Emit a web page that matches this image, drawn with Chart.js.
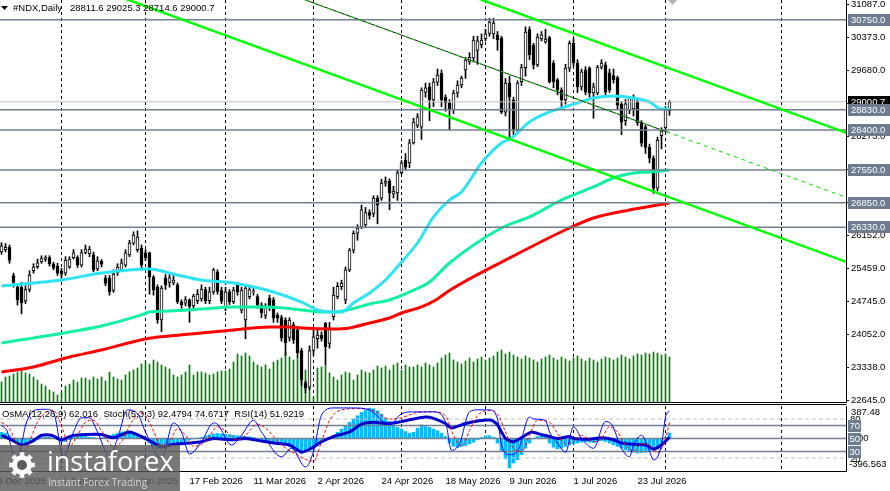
<!DOCTYPE html>
<html>
<head>
<meta charset="utf-8">
<title>#NDX Daily</title>
<script src="https://cdn.jsdelivr.net/npm/chart.js@4.4.1/dist/chart.umd.min.js"></script>
<style>
  html, body { margin: 0; padding: 0; background: #fff; }
  body { width: 890px; height: 491px; position: relative; overflow: hidden; }
  canvas { position: absolute; left: 0; }
  #mainChart { top: 0; }
  #oscChart { top: 403px; }
</style>
</head>
<body>
<canvas id="mainChart" width="890" height="404"></canvas>
<canvas id="oscChart" width="890" height="88"></canvas>
<script>
// ---- price bars (one per trading day from 9 Dec 2025) ----
const opens = [
  25750, 25800, 25850, 25900, 25300, 25060, 25050, 24750, 25000, 25400,
  25490, 25590, 25640, 25680, 25550, 25500, 25400, 25350, 25480, 25680,
  25680, 25520, 25790, 25760, 25740, 25440, 25600, 25250, 25250, 24980,
  25350, 25420, 25520, 25740, 25990, 25850, 25880, 25780, 25780, 25260,
  25050, 24350, 25250, 25150, 25140, 25100, 24740, 24710, 24780, 24650,
  24760, 24800, 25000, 24760, 24950, 25380, 24980, 24620, 24950, 24740,
  25100, 24560, 24350, 24850, 24950, 24850, 24670, 24450, 24820, 24780,
  24450, 24400, 24350, 23980, 24250, 24140, 23700, 23010, 22920, 23700,
  23950, 24030, 24280, 23850, 24420, 24850, 25060, 24780, 25420, 25840,
  26200, 26330, 26380, 26640, 26620, 26950, 26950, 27270, 27310, 27040,
  27060, 27490, 27760, 27700, 28125, 28500, 28460, 29200, 29320, 29040,
  29420, 29610, 29100, 28980, 28830, 29190, 29360, 29680, 29850, 29940,
  30100, 30220, 30350, 30460, 30450, 30430, 30360, 28780, 29400, 29040,
  28400, 29430, 29730, 30540, 30210, 29790, 30340, 30280, 30370, 29830,
  29470, 29250, 29040, 29720, 30250, 29830, 29320, 29680, 29720, 29190,
  29190, 29740, 29790, 29620, 29560, 29520, 28950, 28600, 28830, 28850,
  29000, 28550, 28470, 28030, 27800, 27160, 28280, 28450, 28811.6
];
const highs = [
  25900, 26000, 25980, 25950, 25350, 25100, 25150, 25080, 25400, 25550,
  25650, 25720, 25720, 25720, 25580, 25560, 25450, 25700, 25700, 25850,
  25720, 25850, 25950, 25920, 25800, 25700, 25640, 25300, 25300, 25420,
  25550, 25650, 25850, 26050, 26230, 26250, 25950, 25850, 25800, 25300,
  25100, 25080, 25320, 25350, 25300, 25140, 24780, 24850, 24800, 24900,
  25000, 25100, 25050, 25050, 25450, 25420, 25050, 25050, 25000, 25050,
  25150, 25050, 25080, 25050, 25030, 24900, 24720, 24700, 24880, 24830,
  24500, 24450, 24400, 24400, 24300, 24200, 23750, 23050, 23800, 24150,
  24150, 24100, 24300, 24300, 25050, 25150, 25200, 25480, 25880, 26250,
  26380, 26800, 26750, 26700, 27000, 27000, 27350, 27400, 27360, 27200,
  27550, 27750, 27900, 28200, 28650, 28750, 29300, 29400, 29400, 29500,
  29700, 29680, 29150, 29050, 29250, 29450, 29550, 29950, 30050, 30400,
  30400, 30450, 30550, 30780, 30780, 30500, 30400, 29500, 29550, 29100,
  29450, 29800, 30600, 30600, 30250, 30450, 30500, 30550, 30400, 29880,
  29500, 29300, 29800, 30300, 30350, 29900, 29700, 29750, 29750, 29400,
  29780, 29900, 29850, 29700, 29700, 29550, 29000, 29050, 29100, 29150,
  29050, 28600, 28500, 28100, 27850, 28250, 28450, 28900, 29025.3
];
const lows = [
  25700, 25750, 25800, 25560, 25050, 24670, 24480, 24700, 24950, 25350,
  25450, 25560, 25600, 25500, 25420, 25300, 25250, 25300, 25450, 25650,
  25470, 25480, 25760, 25700, 25380, 25400, 25480, 25080, 24880, 24940,
  25300, 25380, 25480, 25700, 25950, 25800, 25450, 25620, 24900, 24880,
  24280, 24100, 25000, 25050, 25100, 24700, 24600, 24650, 24300, 24600,
  24700, 24750, 24700, 24700, 24900, 24900, 24700, 24550, 24680, 24700,
  24880, 24500, 23950, 24800, 24880, 24600, 24400, 24380, 24550, 24300,
  24300, 23900, 23600, 23900, 23850, 23550, 22950, 22800, 22870, 23600,
  23750, 23900, 23400, 23750, 24350, 24800, 25000, 24700, 25380, 25780,
  26050, 26300, 26330, 26500, 26550, 26400, 26900, 27200, 26700, 26950,
  26900, 27450, 27550, 27600, 28100, 28450, 28200, 29100, 28600, 28900,
  29350, 28900, 28800, 28400, 28750, 29100, 29300, 29500, 29800, 29850,
  29800, 30150, 30300, 30400, 30350, 30100, 28750, 28700, 28200, 28300,
  28350, 29350, 29550, 29900, 29700, 29750, 30300, 30250, 29400, 29300,
  29150, 28900, 28950, 29650, 29750, 29200, 29250, 29150, 29100, 28650,
  29150, 29700, 29150, 29200, 29400, 28850, 28300, 28500, 28750, 28700,
  28500, 28050, 27900, 27700, 27050, 27100, 28000, 28400, 28714.6
];
const closes = [
  25820, 25930, 25900, 25620, 25150, 24780, 24720, 25000, 25310, 25480,
  25570, 25660, 25680, 25550, 25460, 25350, 25330, 25630, 25650, 25780,
  25520, 25780, 25860, 25860, 25420, 25610, 25540, 25130, 24950, 25330,
  25480, 25570, 25780, 25990, 26160, 26120, 25520, 25680, 25270, 24990,
  24350, 25030, 25100, 25250, 25200, 24740, 24670, 24780, 24640, 24860,
  24900, 25010, 24760, 24950, 25420, 24960, 24750, 24950, 24740, 24990,
  24950, 24990, 25030, 25000, 24970, 24670, 24500, 24620, 24630, 24390,
  24390, 23970, 23860, 24350, 23920, 23650, 23070, 22900, 23700, 23990,
  24030, 23960, 23780, 24150, 24880, 25070, 25140, 25420, 25840, 26200,
  26310, 26700, 26640, 26580, 26950, 26800, 27270, 27310, 27060, 27100,
  27490, 27700, 27610, 28125, 28570, 28680, 29250, 29300, 29040, 29420,
  29570, 29040, 28980, 28830, 29190, 29360, 29510, 29890, 29950, 30320,
  30300, 30320, 30450, 30700, 30680, 30320, 28780, 29400, 29100, 28400,
  29400, 29730, 30490, 30000, 29790, 30380, 30430, 30340, 29430, 29430,
  29250, 29040, 29720, 30250, 29830, 29320, 29640, 29210, 29190, 29320,
  29740, 29830, 29210, 29250, 29470, 28930, 28570, 28960, 29080, 29100,
  28550, 28120, 28030, 27800, 27160, 28180, 28380, 28830, 29000.7
];
// tick volume, thousands
const volumes = [
  22, 20, 25, 26, 28, 30, 31, 29, 28, 25,
  22, 18, 16, 12, 10, 7, 10, 16, 18, 22,
  20, 24, 24, 22, 25, 23, 25, 21, 30, 25,
  23, 22, 27, 30, 32, 34, 38, 40, 38, 42,
  40, 37, 35, 33, 27, 25, 27, 30, 37, 27,
  30, 30, 29, 27, 28, 30, 31, 31, 33, 40,
  48, 46, 49, 46, 40, 37, 35, 37, 33, 40,
  42, 44, 49, 45, 42, 44, 39, 32, 15, 5,
  34, 35, 37, 29, 25, 22, 27, 30, 29, 22,
  27, 32, 30, 29, 32, 36, 34, 36, 32, 37,
  39, 32, 37, 35, 35, 37, 35, 39, 37, 35,
  39, 44, 47, 49, 42, 40, 38, 41, 44, 40,
  43, 45, 42, 44, 46, 50, 52, 48, 50, 47,
  45, 43, 46, 44, 42, 40, 43, 45, 47, 44,
  42, 45, 43, 41, 44, 46, 43, 41, 44, 42,
  40, 43, 45, 44, 42, 44, 47, 45, 43, 46,
  48, 47, 49, 48, 50, 49, 47, 48, 45
];

// ---- moving averages, [bar, price] read at intervals ----
const maFast = [
  [1, 25075], [9, 25139], [16, 25203], [26, 25353], [38, 25438], [44, 25331], [51, 25203],
  [59, 25139], [64, 25054], [69, 24948], [76, 24734], [80, 24564], [83.5, 24521], [86, 24521],
  [89, 24713], [93, 24926], [97, 25203], [101, 25587], [105, 25992], [109, 26547], [113, 26909],
  [116, 27080], [121, 27698], [126, 28124], [128.5, 28231], [133, 28572], [138, 28785],
  [141, 28870], [145, 28977], [149, 29084], [154, 29126], [159, 29084], [163, 28998],
  [166, 28849], [168, 28849]
];
const maMid = [
  [1, 23860], [9, 23967], [18, 24095], [26, 24223], [36, 24460], [38, 24521], [43, 24542],
  [51, 24585], [59, 24628], [68, 24628], [76, 24564], [81, 24521], [84, 24521], [88.5, 24585],
  [93, 24692], [98, 24777], [103, 24948], [108, 25161], [113, 25566], [126, 26312],
  [133, 26547], [141, 26909], [149, 27186], [154, 27378], [159, 27485], [163, 27506], [168, 27549]
];
const maSlow = [
  [1, 23242], [9, 23349], [18, 23562], [26, 23711], [37, 23946], [43, 24009], [51, 24073],
  [59, 24137], [68, 24201], [73, 24201], [76, 24180], [84, 24159], [88, 24180], [93, 24287],
  [98, 24393], [101, 24500], [106, 24628], [110, 24800], [113, 24980], [128, 25672],
  [143, 26312], [149, 26525], [158, 26696], [168, 26845]
];

// ---- objects on the chart ----
const levels = [30750, 28830, 28400, 27550, 26850, 26330];
const bidPrice = 29000.7;
const priceTicks = [22645, 23338, 24052, 24745, 25459, 26152, 26866, 27559, 28273, 28966, 29680, 30373, 31087];
const channelUpper = [[0, 34943], [215, 28252]];
const channelMiddle = [[0, 33568], [215, 26877]];
const channelMiddleDrawn = [[0, 33568], [168, 28340]];
const channelLower = [[0, 32193], [215, 25502]];

// ---- oscillators ----
const osma = [
  75, 70, 60, 30, -20, -60, -85, -80, -60, -40,
  -20, 10, 15, 10, -5, -20, -45, -40, -20, 10,
  25, 30, 20, 10, 5, -5, 5, 15, 25, 45,
  60, 75, 80, 75, 65, 50, 30, -10, -60, -100,
  -125, -120, -110, -100, -90, -80, -60, -40, -20, -10,
  0, 10, 25, 40, 50, 55, 50, 45, 40, 35,
  30, 25, 20, 15, 5, -10, -30, -45, -55, -60,
  -65, -70, -80, -100, -125, -145, -150, -140, -120, -100,
  -75, -50, -25, 0, 30, 70, 110, 150, 190, 230,
  270, 310, 340, 360, 355, 330, 290, 240, 200, 160,
  130, 110, 80, 60, 70, 120, 160, 150, 130, 110,
  90, 60, 20, -60, -100, -110, -100, -90, -70, -50,
  -20, 5, 25, 30, 10, -60, -150, -250, -360, -300,
  -260, -200, -120, -60, -10, 20, 30, 20, -60, -110,
  -130, -120, -100, -80, -70, -60, -50, -40, -50, -55,
  -40, -30, -40, -60, -80, -100, -120, -140, -160, -170,
  -180, -175, -170, -160, -150, -130, -90, 10, 62.016
];
const stochMain = [
  [1, 70], [2.5, 60], [3.5, 35], [5, 20], [6, 40], [7, 70], [9.5, 94], [12, 95], [14, 90],
  [16.5, 22], [19, 60], [21, 82], [23, 82], [25, 60], [28, 22], [30, 50], [32.5, 94], [35, 88],
  [37, 60], [41, 19], [44, 74], [46, 60], [48, 26], [51, 45], [54, 74], [55, 72], [58.5, 40],
  [61, 55], [64, 78], [66, 60], [71, 22], [73.5, 35], [77, 6], [79, 30], [81, 86], [84, 97],
  [89, 97], [93, 94], [98, 71], [101, 88], [104, 91], [109, 91], [112, 76], [113.5, 32],
  [115.5, 42], [118, 91], [120, 94], [123, 94], [125, 80], [126, 40], [128, 25], [130, 30],
  [133, 83], [134, 80], [137, 78], [138, 60], [140, 43], [142, 29], [144, 68], [146, 50],
  [149, 35], [152, 76], [153.5, 72], [156, 35], [158, 22], [159, 40], [161, 55], [163, 30],
  [164, 17], [166, 40], [167, 83], [168, 92.4794]
];
const stochSignal = [
  [1, 75], [3, 65], [5, 40], [6.5, 28], [8, 45], [10, 75], [12, 90], [14, 93], [16, 70],
  [18, 38], [20, 55], [22, 75], [24, 78], [26, 62], [29, 38], [31, 45], [33.5, 75], [36, 90],
  [38, 75], [41, 40], [43, 45], [45, 65], [47, 55], [49, 38], [52, 45], [55, 68], [57, 62],
  [60, 48], [62, 55], [65, 72], [67, 66], [71, 40], [74, 28], [77, 18], [79, 15], [81, 45],
  [83, 78], [86, 94], [90, 96], [94, 93], [98, 80], [101, 82], [105, 90], [109, 91], [112, 85],
  [114, 55], [116, 38], [118, 62], [120, 85], [123, 93], [125, 88], [127, 60], [129, 35],
  [131, 30], [133, 55], [135, 78], [138, 75], [140, 58], [142, 42], [144, 45], [146, 55],
  [149, 45], [151, 50], [153, 68], [155, 60], [157, 40], [159, 30], [161, 42], [163, 40],
  [165, 28], [167, 50], [168, 74.6717]
];
const rsi = [
  [1, 55], [3.5, 48], [6, 40], [8.5, 45], [11, 55], [13.5, 55], [16, 48], [18.5, 54], [22, 56],
  [26, 56], [29, 51], [33, 60], [36, 53], [38.5, 45], [41, 37], [44, 41], [48, 43], [51, 45],
  [54, 50], [58.5, 48], [62, 50], [66, 46], [69, 43], [73, 40], [76, 29], [78.5, 35], [81, 45],
  [84, 53], [88, 60], [91, 72], [94, 75], [98, 73], [101, 76], [104, 80], [107, 83], [109, 81],
  [112, 73], [113.5, 66], [117, 73], [120, 77], [123.5, 78], [125, 71], [127, 50], [129, 45],
  [132, 55], [133.5, 60], [136, 56], [138, 53], [140, 50], [143, 53], [144, 50], [148, 49],
  [151, 51], [154, 48], [156, 43], [159, 41], [162, 40], [164, 34], [166, 40], [168, 51.9219]
];
const oscLevels = [80, 70, 50, 30, 20];

// ---- calendar ----
const firstDay = '2025-12-09';
const holidays = ['2025-12-25', '2026-01-01'];
const futureSeparators = [196];
const months = ['Jan', 'Feb', 'Mar', 'Apr', 'May', 'Jun', 'Jul', 'Aug', 'Sep', 'Oct', 'Nov', 'Dec'];

const dates = [];
for (let d = new Date(firstDay + 'T00:00:00Z'); dates.length < closes.length; d.setUTCDate(d.getUTCDate() + 1)) {
  const dow = d.getUTCDay();
  if (dow === 0 || dow === 6 || holidays.includes(d.toISOString().slice(0, 10))) continue;
  dates.push(new Date(d));
}
const dateLabel = d => d.getUTCDate() + ' ' + months[d.getUTCMonth()] + ' ' + d.getUTCFullYear();
const labelBars = dates.map((d, k) => k).filter(k => k % 16 === 0);
const monthStarts = dates.map((d, k) => k).filter(k => k > 0 && dates[k].getUTCMonth() !== dates[k - 1].getUTCMonth());
const separators = monthStarts.concat(futureSeparators);

// ---- look ----
const FONT = '9.5px "Liberation Sans", Arial, sans-serif';
const TAG = '#6d7c8e';
const xMin = 0.625, xMax = 212.125;
const pts = arr => arr.map(([x, y]) => ({ x, y }));
const hline = v => [{ x: xMin, y: v }, { x: xMax, y: v }];
Chart.defaults.font.family = '"Liberation Sans", Arial, sans-serif';

// --- month separators, both panels ---
const separatorPlugin = {
  id: 'separators',
  beforeDatasetsDraw(chart) {
    const { ctx, chartArea: a, scales: { x } } = chart;
    ctx.save();
    ctx.strokeStyle = '#000';
    ctx.lineWidth = 1;
    ctx.setLineDash([3, 3]);
    separators.forEach(k => {
      const px = x.getPixelForValue(k);
      ctx.beginPath();
      ctx.moveTo(px, a.top);
      ctx.lineTo(px, a.bottom);
      ctx.stroke();
    });
    ctx.restore();
  }
};

// --- main panel texts and price tags ---
const mainOverlay = {
  id: 'mainOverlay',
  afterDraw(chart) {
    const { ctx, chartArea: a, scales: { y } } = chart;
    const last = closes.length - 1;
    ctx.save();
    ctx.strokeStyle = '#000';
    ctx.lineWidth = 1;
    ctx.beginPath();
    ctx.moveTo(0, a.bottom + 0.5);
    ctx.lineTo(a.right, a.bottom + 0.5);
    ctx.stroke();

    ctx.font = FONT;
    ctx.textBaseline = 'middle';
    // bid tag first, the level tags sit over it
    const pb = Math.round(y.getPixelForValue(bidPrice));
    ctx.fillStyle = '#000';
    ctx.fillRect(a.right + 2, pb - 6, 42, 12);
    ctx.fillStyle = '#fff';
    ctx.fillText(bidPrice.toFixed(1), a.right + 5, pb + 0.5);
    levels.forEach(v => {
      const py = Math.round(y.getPixelForValue(v));
      ctx.fillStyle = TAG;
      ctx.fillRect(a.right + 2, py - 6, 42, 12);
      ctx.fillStyle = '#fff';
      ctx.fillText(v.toFixed(1), a.right + 5, py + 0.5);
    });

    // header
    ctx.fillStyle = '#000';
    ctx.beginPath();
    ctx.moveTo(1, 6); ctx.lineTo(8, 6); ctx.lineTo(4.5, 10); ctx.closePath();
    ctx.fill();
    ctx.fillText('#NDX,Daily', 13, 8);
    ctx.fillText([opens[last], highs[last], lows[last], closes[last]].map(v => v.toFixed(1)).join(' '), 70, 8);

    // shift marker
    ctx.fillStyle = '#b4b4b4';
    ctx.beginPath();
    ctx.moveTo(668, 0); ctx.lineTo(677, 0); ctx.lineTo(672.5, 5); ctx.closePath();
    ctx.fill();
    ctx.restore();
  }
};

// --- oscillator panel texts, tags and watermark ---
const oscOverlay = {
  id: 'oscOverlay',
  afterDraw(chart) {
    const { ctx, chartArea: a, scales: { ys } } = chart;
    const last = osma.length - 1;
    ctx.save();
    ctx.strokeStyle = '#000';
    ctx.lineWidth = 1;
    ctx.beginPath();
    ctx.moveTo(0, a.top - 1.5); ctx.lineTo(a.right + 0.5, a.top - 1.5);
    ctx.moveTo(0, a.bottom + 0.5); ctx.lineTo(a.right + 0.5, a.bottom + 0.5);
    ctx.stroke();

    ctx.font = FONT;
    ctx.textBaseline = 'middle';
    ctx.fillStyle = '#000';
    ctx.fillText('OsMA(12,26,9) ' + osma[last].toFixed(3) + '  Stoch(5,3,3) ' +
      stochMain[stochMain.length - 1][1].toFixed(4) + ' ' + stochSignal[stochSignal.length - 1][1].toFixed(4) +
      '  RSI(14) ' + rsi[rsi.length - 1][1].toFixed(4), 2, 11);

    ctx.fillText('387.48', a.right + 5, a.top + 6);
    ctx.fillText('-396.563', a.right + 3, a.bottom - 7);
    ctx.fillText('80', a.right + 4, ys.getPixelForValue(80));
    ctx.fillText('20', a.right + 4, ys.getPixelForValue(20) + 1);
    ctx.fillText('0.00', a.right + 4, ys.getPixelForValue(50));
    [70, 50, 30].forEach(v => {
      const py = Math.round(ys.getPixelForValue(v));
      ctx.fillStyle = TAG;
      ctx.fillRect(a.right + 2, py - 6, 13, 12);
      ctx.fillStyle = '#fff';
      ctx.fillText(String(v), a.right + 3.5, py + 0.5);
    });

    // watermark
    ctx.fillStyle = 'rgba(92,92,92,0.82)';
    ctx.fillRect(0, 42, 180, 46);
    ctx.fillStyle = '#fff';
    const cx = 22, cy = 62;
    ctx.beginPath();
    for (let i = 0; i < 16; i++) {
      const ang = i * Math.PI / 8 - Math.PI / 16;
      const r = i % 2 === 0 ? 13 : 10;
      ctx.lineTo(cx + r * Math.cos(ang), cy + r * Math.sin(ang));
      ctx.lineTo(cx + r * Math.cos(ang + Math.PI / 8), cy + r * Math.sin(ang + Math.PI / 8));
    }
    ctx.closePath();
    ctx.fill();
    ctx.fillStyle = 'rgba(92,92,92,1)';
    ctx.beginPath();
    ctx.arc(cx, cy, 5, 0, Math.PI * 2);
    ctx.fill();
    ctx.fillStyle = '#fff';
    ctx.textBaseline = 'alphabetic';
    ctx.font = '27px "Open Sans", "Liberation Sans", sans-serif';
    ctx.fillText('instaforex', 47, 68);
    ctx.fillStyle = '#d6d6d6';
    ctx.font = '10px "Open Sans", "Liberation Sans", sans-serif';
    ctx.fillText('Instant Forex Trading', 48, 83);
    ctx.restore();
  }
};

const lineDs = (data, color, width, order, extra) => Object.assign({
  type: 'line', data, borderColor: color, borderWidth: width, pointRadius: 0,
  fill: false, clip: 0, order, yAxisID: 'y'
}, extra || {});

new Chart(document.getElementById('mainChart'), {
  type: 'bar',
  data: {
    datasets: [
      lineDs(pts(channelUpper), '#00ff00', 2.5, 0),
      lineDs(pts(channelLower), '#00ff00', 2.5, 0),
      lineDs(pts(channelMiddle), '#00dd00', 1, 0, { borderDash: [4, 4] }),
      lineDs(pts(channelMiddleDrawn), '#1a1a1a', 1, 0.5),
      ...levels.map(v => lineDs(hline(v), '#708090', 1.5, 1)),
      lineDs(hline(bidPrice), '#c0c0c0', 1, 1),
      lineDs(pts(maFast), '#2ee3f2', 3, 2, { cubicInterpolationMode: 'monotone' }),
      lineDs(pts(maMid), '#12f0a2', 3, 2, { cubicInterpolationMode: 'monotone' }),
      lineDs(pts(maSlow), '#ff0000', 3, 2, { cubicInterpolationMode: 'monotone' }),
      {
        label: 'bodies', data: closes.map((c, k) => ({ x: k, y: [opens[k], c] })),
        backgroundColor: ctx => closes[ctx.dataIndex] >= opens[ctx.dataIndex] ? '#fff' : '#000',
        borderColor: '#000', borderWidth: 1, borderSkipped: false,
        barThickness: 3, grouped: false, order: 3, yAxisID: 'y'
      },
      {
        label: 'wicks', data: closes.map((c, k) => ({ x: k, y: [lows[k], highs[k]] })),
        backgroundColor: '#000', borderWidth: 0, barThickness: 1, grouped: false, order: 4, yAxisID: 'y'
      },
      {
        label: 'volume', data: volumes.map((v, k) => ({ x: k, y: v })),
        backgroundColor: '#127512', borderWidth: 0, barThickness: 1, grouped: false, order: 5, yAxisID: 'yv'
      }
    ]
  },
  options: {
    responsive: false, animation: false, devicePixelRatio: 1, events: [],
    layout: { padding: { left: 0, right: 0, top: 0, bottom: 2 } },
    plugins: { legend: { display: false }, tooltip: { enabled: false } },
    scales: {
      x: { type: 'linear', min: xMin, max: xMax, offset: false, display: false },
      y: {
        position: 'right', min: 22602.4, max: 31172.3,
        afterBuildTicks: s => { s.ticks = priceTicks.map(v => ({ value: v })); },
        afterFit: s => { s.width = 44; s.paddingTop = 0; s.paddingBottom = 0; },
        ticks: { callback: v => v.toFixed(1), color: '#000', font: { size: 9.5 }, padding: 2, autoSkip: false },
        grid: { drawOnChartArea: false, drawTicks: true, tickLength: 3, color: '#000' },
        border: { display: true, color: '#000', width: 1 }
      },
      yv: { display: false, min: 0, max: 402 }
    }
  },
  plugins: [separatorPlugin, mainOverlay]
});

new Chart(document.getElementById('oscChart'), {
  type: 'bar',
  data: {
    datasets: [
      lineDs(pts(stochMain), '#0000ff', 1, 0, { yAxisID: 'ys', cubicInterpolationMode: 'monotone' }),
      lineDs(pts(stochSignal), '#ff0000', 1, 0, { yAxisID: 'ys', borderDash: [3, 2], cubicInterpolationMode: 'monotone' }),
      lineDs(pts(rsi), '#0000cd', 3, 0, { yAxisID: 'ys', tension: 0.2 }),
      ...oscLevels.map(v => (v === 80 || v === 20)
        ? lineDs(hline(v), '#c0c0c0', 1, 1, { yAxisID: 'ys', borderDash: [4, 3] })
        : lineDs(hline(v), '#708090', 1.5, 1, { yAxisID: 'ys' })),
      {
        label: 'osma', data: osma.map((v, k) => ({ x: k, y: v })),
        backgroundColor: '#00bfff', borderWidth: 0, barThickness: 3, grouped: false, order: 3, yAxisID: 'yo'
      }
    ]
  },
  options: {
    responsive: false, animation: false, devicePixelRatio: 1, events: [],
    layout: { padding: { left: 0, right: 0, top: 3, bottom: 0 } },
    plugins: { legend: { display: false }, tooltip: { enabled: false } },
    scales: {
      x: {
        type: 'linear', min: xMin, max: xMax, offset: false, position: 'bottom',
        afterBuildTicks: s => { s.ticks = labelBars.map(k => ({ value: k })); },
        afterFit: s => { s.height = 20; s.paddingLeft = 0; s.paddingRight = 0; },
        ticks: {
          callback: v => dates[v] ? dateLabel(dates[v]) : '', align: 'start', maxRotation: 0, minRotation: 0,
          autoSkip: false, padding: 5, color: '#000', font: { size: 9.5 }
        },
        grid: { display: false, drawTicks: false },
        border: { display: false }
      },
      yo: {
        position: 'right', min: -396.563, max: 387.48,
        afterFit: s => { s.width = 44; s.paddingTop = 0; s.paddingBottom = 0; },
        ticks: { display: false },
        grid: { drawOnChartArea: false, drawTicks: false },
        border: { display: true, color: '#000', width: 1 }
      },
      ys: { display: false, min: 0, max: 100 }
    }
  },
  plugins: [separatorPlugin, oscOverlay]
});
</script>
</body>
</html>
